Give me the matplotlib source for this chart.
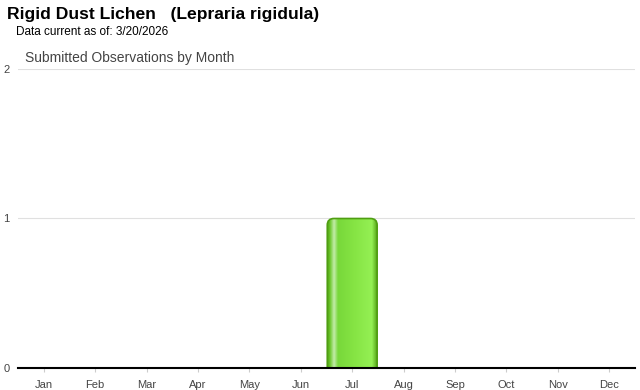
import numpy as np
import matplotlib.pyplot as plt
from matplotlib.patches import FancyBboxPatch

months = ["Jan", "Feb", "Mar", "Apr", "May", "Jun",
          "Jul", "Aug", "Sep", "Oct", "Nov", "Dec"]
counts = [0, 0, 0, 0, 0, 0, 1, 0, 0, 0, 0, 0]
yticks = [0, 1, 2]

plt.rcParams["font.family"] = ["Liberation Sans", "DejaVu Sans"]

fig = plt.figure(figsize=(6.4, 3.9), dpi=100)
ax = fig.add_axes([18 / 640, 1 - 368 / 390, 617 / 640, 299 / 390])

x = np.arange(len(months))
ax.set_xlim(-0.5, len(months) - 0.5)
ax.set_ylim(0, max(yticks))

# gridlines
for t in yticks[1:]:
    ax.axhline(t, color="#e0e0e0", lw=0.8, zorder=0)

# horizontal gradient for the bar
stops = [(0.0, "#4f9e12"), (0.06, "#6cc82c"), (0.14, "#c4ecaa"),
         (0.22, "#78d83a"), (0.55, "#86e444"), (0.9, "#94f054"), (1.0, "#58a81a")]
pos = [s[0] for s in stops]
rgb = np.array([[int(c[i:i + 2], 16) / 255 for i in (1, 3, 5)] for _, c in stops])
xs = np.linspace(0, 1, 200)
grad = np.stack([np.interp(xs, pos, rgb[:, k]) for k in range(3)], axis=-1)[None, :, :]

w = 0.97
for xi, v in zip(x, counts):
    if v <= 0:
        continue
    box = FancyBboxPatch((xi - w / 2, -0.1), w, v + 0.1,
                         boxstyle="round,pad=0,rounding_size=0.13",
                         mutation_aspect=0.34, facecolor="none",
                         edgecolor="#4f9e12", lw=1.2, zorder=3)
    ax.add_patch(box)
    im = ax.imshow(grad, extent=(xi - w / 2, xi + w / 2, -0.1, v),
                   aspect="auto", zorder=2, interpolation="bilinear")
    im.set_clip_path(box)

ax.set_aspect("auto")
ax.set_xlim(-0.5, len(months) - 0.5)
ax.set_ylim(0, max(yticks))

ax.set_xticks(x)
ax.set_xticklabels(months, fontsize=8, color="#444444")
ax.set_yticks(yticks)
ax.set_yticklabels([str(t) for t in yticks], fontsize=8, color="#444444")
ax.tick_params(axis="x", length=3, color="#cccccc", pad=6)
ax.tick_params(axis="y", length=0, pad=6)
for s in ["top", "right", "left"]:
    ax.spines[s].set_visible(False)
ax.spines["bottom"].set_linewidth(1.5)
ax.spines["bottom"].set_color("black")
ax.spines["bottom"].set_zorder(4)

fig.text(7 / 640, 1 - 15 / 390, "Rigid Dust Lichen   (Lepraria rigidula)",
         fontsize=12.6, fontweight="bold", va="center", ha="left")
fig.text(16 / 640, 1 - 32 / 390, "Data current as of: 3/20/2026",
         fontsize=8.5, va="center", ha="left")
fig.text(25 / 640, 1 - 58 / 390, "Submitted Observations by Month",
         fontsize=10, color="#444444", va="center", ha="left")

fig.savefig("out.png", dpi=100)
